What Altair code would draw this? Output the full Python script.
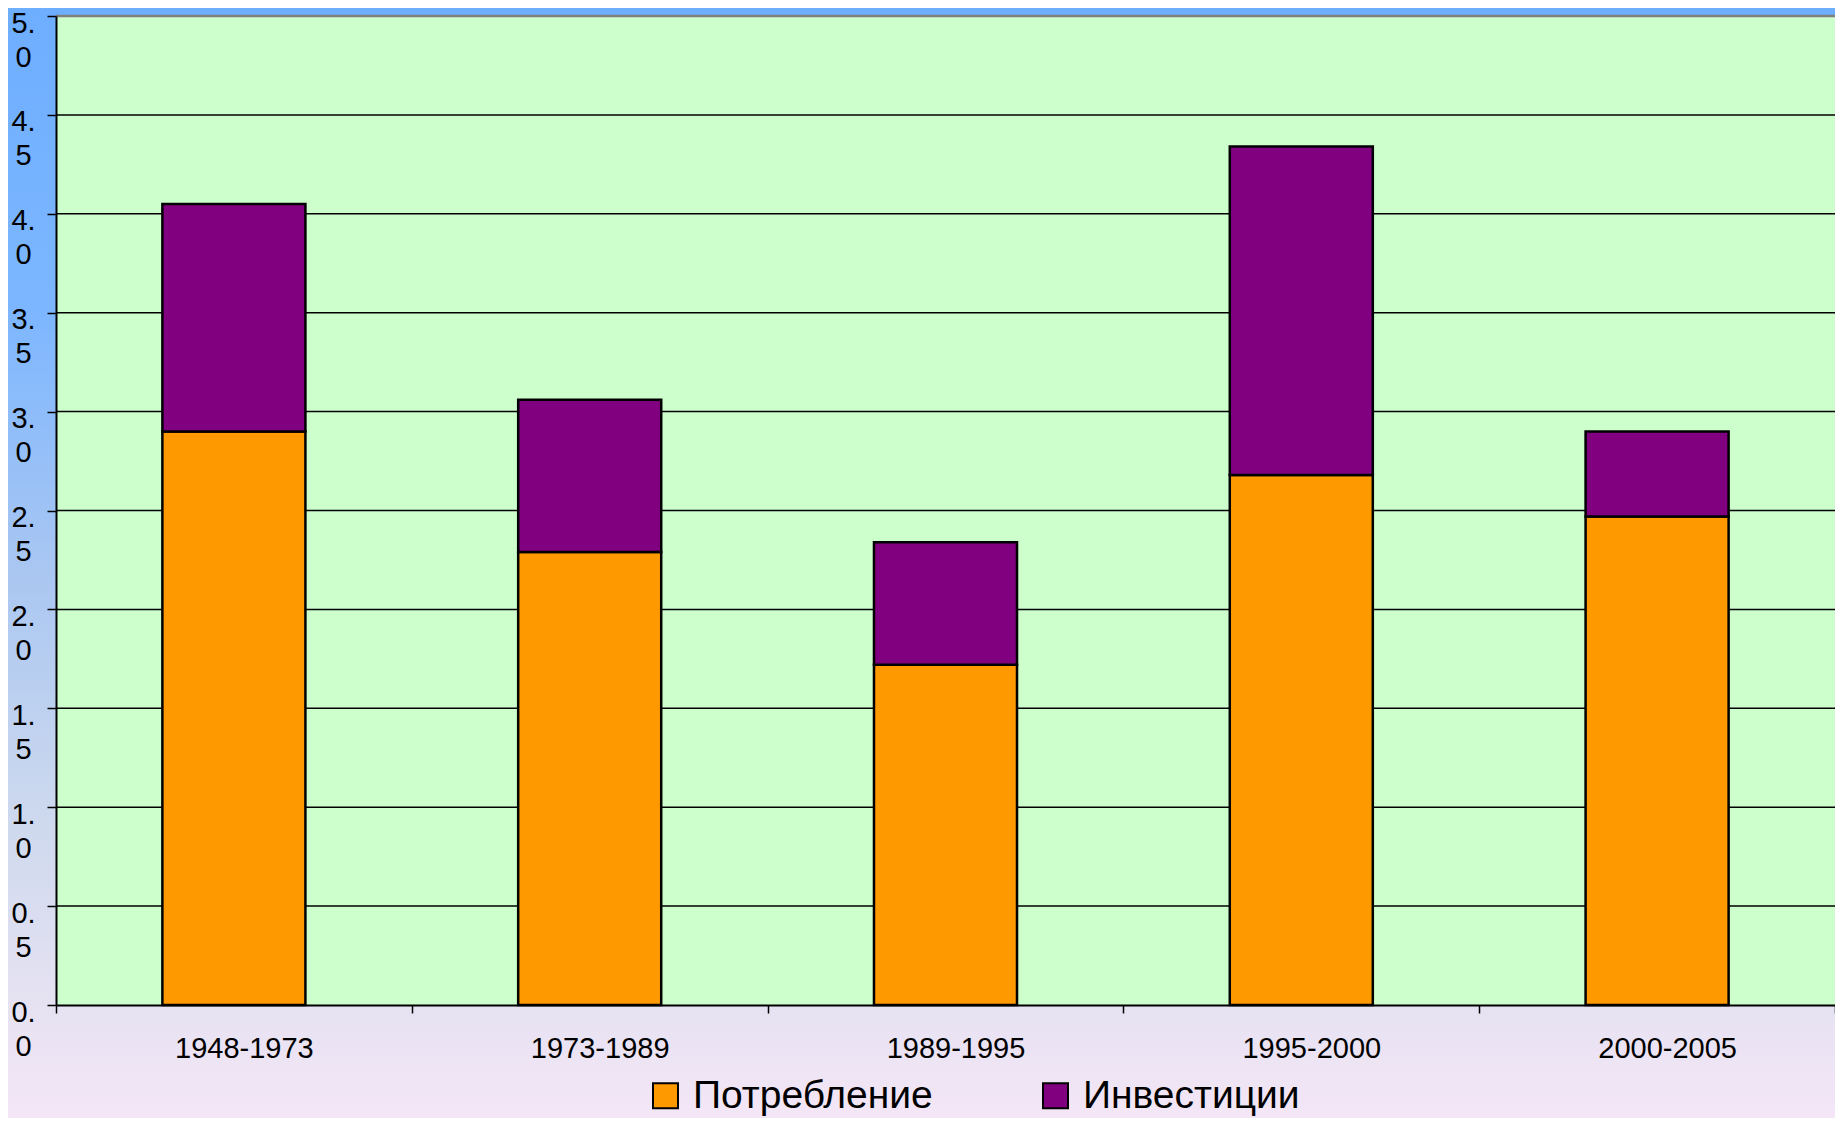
import altair as alt
import pandas as pd

# ---- data ----
periods = ["1948-1973", "1973-1989", "1989-1995", "1995-2000", "2000-2005"]
consumption = [2.90, 2.29, 1.72, 2.68, 2.47]   # Потребление (bottom segment)
investment = [1.15, 0.77, 0.62, 1.66, 0.43]    # Инвестиции (top segment)
series = ["Потребление", "Инвестиции"]
series_colors = ["#ff9900", "#800080"]
y_ticks = [0.0, 0.5, 1.0, 1.5, 2.0, 2.5, 3.0, 3.5, 4.0, 4.5, 5.0]
grid_values = [0.5, 1.0, 1.5, 2.0, 2.5, 3.0, 3.5, 4.0, 4.5]
top_value = [5.0]

rows = []
for i, p in enumerate(periods):
    rows.append({"period": p, "series": series[0], "value": consumption[i], "ord": 0})
    rows.append({"period": p, "series": series[1], "value": investment[i], "ord": 1})
df = pd.DataFrame(rows)

FONT = "Liberation Sans"
W, H = 1779, 989
PAD = {"left": 48, "top": 8, "right": 0, "bottom": 113}

y_scale = alt.Scale(domain=[0, 5], nice=False, zero=True)
y_axis = alt.Axis(
    title=None,
    values=y_ticks,
    grid=False,
    labelExpr="[substring(format(datum.value, '.1f'), 0, 2), substring(format(datum.value, '.1f'), 2, 3)]",
    labelFont=FONT,
    labelFontSize=29,
    labelColor="black",
    labelAlign="center",
    labelBaseline="alphabetic",
    labelOffset=16,
    labelLineHeight=34,
    labelPadding=24,
    labelOverlap=False,
    tickColor="black",
    tickSize=9,
    tickWidth=1.5,
    domainColor="black",
    domainWidth=2,
    zindex=1,
)

one = pd.DataFrame({"k": [0]})

background = alt.Chart(one).mark_rect(
    fill={
        "gradient": "linear",
        "x1": 0, "y1": 0, "x2": 0, "y2": 1,
        "stops": [
            {"offset": 0.0, "color": "#6eaeff"},
            {"offset": 0.27, "color": "#7cb6ff"},
            {"offset": 0.5, "color": "#a8c6f2"},
            {"offset": 0.72, "color": "#ccd8ee"},
            {"offset": 0.9, "color": "#e6e2f2"},
            {"offset": 1.0, "color": "#f4e6f6"},
        ],
    }
).encode(
    x=alt.value(-PAD["left"]), x2=alt.value(W + PAD["right"]),
    y=alt.value(-PAD["top"]), y2=alt.value(H + PAD["bottom"]),
)

plot_bg = alt.Chart(one).mark_rect(fill="#ccffcc").encode(
    x=alt.value(0), x2=alt.value(W), y=alt.value(0), y2=alt.value(H)
)

grid = alt.Chart(pd.DataFrame({"tick": grid_values})).mark_rule(
    color="black", strokeWidth=1.5
).encode(y=alt.Y("tick:Q", scale=y_scale, axis=y_axis))

top_line = alt.Chart(pd.DataFrame({"tick": top_value})).mark_rule(
    color="#808080", strokeWidth=2.5
).encode(y=alt.Y("tick:Q", scale=y_scale, axis=y_axis))

bars = alt.Chart(df).mark_bar(
    stroke="black", strokeWidth=2.5, width=alt.RelativeBandSize(0.402)
).encode(
    x=alt.X(
        "period:N",
        sort=periods,
        scale=alt.Scale(paddingInner=0, paddingOuter=0),
        axis=alt.Axis(
            title=None,
            labelAngle=0,
            labelFont=FONT,
            labelFontSize=29,
            labelColor="black",
            labelPadding=21,
            labelOffset=10,
            tickBand="extent",
            tickColor="black",
            tickSize=8,
            tickWidth=1.5,
            domainColor="black",
            domainWidth=2,
            grid=False,
            zindex=1,
        ),
    ),
    y=alt.Y("value:Q", stack="zero", scale=y_scale, axis=y_axis),
    color=alt.Color(
        "series:N",
        scale=alt.Scale(domain=series, range=series_colors),
        legend=alt.Legend(
            title=None,
            orient="none",
            legendX=590,
            legendY=1060,
            direction="horizontal",
            symbolType="square",
            symbolSize=625,
            symbolStrokeColor="black",
            symbolStrokeWidth=2,
            labelFont=FONT,
            labelFontSize=39,
            labelColor="black",
            labelOffset=8,
            labelLimit=500,
            columnPadding=103,
            padding=0,
        ),
    ),
    order=alt.Order("ord:Q"),
)

chart = alt.layer(background, plot_bg, grid, top_line, bars).properties(
    width=W,
    height=H,
    padding=PAD,
    autosize=alt.AutoSizeParams(type="none"),
).configure_view(stroke="transparent")

chart.save("out.html", embed_options={"renderer": "svg", "actions": False})
